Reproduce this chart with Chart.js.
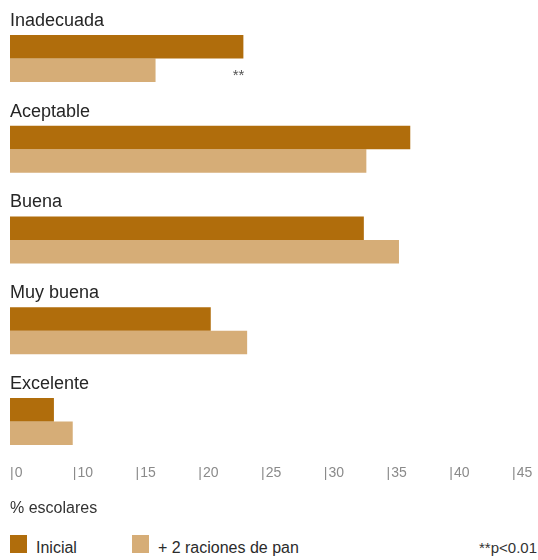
<!DOCTYPE html>
<html lang="es">
<head>
<meta charset="utf-8">
<title>Valoración de escolares</title>
<script src="https://cdn.jsdelivr.net/npm/chart.js@4.4.1/dist/chart.umd.min.js"></script>
<style>
  html, body { margin: 0; padding: 0; background: #fff; }
  body {
    width: 538px;
    font-family: 'Helvetica Neue', 'Liberation Sans', Arial, sans-serif;
    color: #2b2b2b;
  }
  .chart-box { position: relative; width: 538px; height: 528px; }
  .legend {
    display: flex;
    align-items: center;
    height: 32px;
    padding: 0 1px 0 10px;
    box-sizing: border-box;
  }
  .legend .swatch { width: 17px; height: 18px; margin-right: 9px; }
  .legend .txt { font-size: 16px; line-height: 18px; position: relative; top: 4px; }
  .legend .gap { width: 55px; }
  .legend .note { margin-left: auto; font-size: 15px; line-height: 18px; position: relative; top: 4px; color: #333; }
</style>
</head>
<body>
<div class="chart-box"><canvas id="ratingChart"></canvas></div>
<div class="legend" id="legend"></div>

<script>
// datos: % de escolares por categoría
const categories = ['Inadecuada', 'Aceptable', 'Buena', 'Muy buena', 'Excelente'];
const initialValues = [18.6, 31.9, 28.2, 16.0, 3.5];
const breadValues = [11.6, 28.4, 31.0, 18.9, 5.0];
const significance = ['**', '', '', '', ''];

// rótulos del eje x, uno por cada paso de 5
const tickLabels = ['0', '10', '15', '20', '25', '30', '35', '40', '45'];

const seriesNames = ['Inicial', '+ 2 raciones de pan'];
const footnote = '**p<0.01';

const colorInitial = '#b06d0c';
const colorBread = '#d6ad77';
const fontFamily = "'Helvetica Neue', 'Liberation Sans', Arial, sans-serif";

Chart.defaults.font.family = fontFamily;
Chart.defaults.color = '#2b2b2b';

// nombre de la categoría encima de cada par de barras y marca de significación
const groupLabels = {
  id: 'groupLabels',
  afterDatasetsDraw(chart) {
    const ctx = chart.ctx;
    const first = chart.getDatasetMeta(0);
    const second = chart.getDatasetMeta(1);
    ctx.save();
    ctx.textBaseline = 'alphabetic';
    categories.forEach((name, i) => {
      const bar = first.data[i];
      ctx.font = '18px ' + fontFamily;
      ctx.fillStyle = '#262626';
      ctx.textAlign = 'left';
      ctx.fillText(name, chart.chartArea.left, bar.y - bar.height / 2 - 9);

      if (significance[i]) {
        const lower = second.data[i];
        ctx.font = '15px ' + fontFamily;
        ctx.fillStyle = '#555';
        ctx.textAlign = 'right';
        ctx.fillText(significance[i], bar.x + 1, lower.y + lower.height / 2 - 2);
      }
    });
    ctx.restore();
  }
};

const ctxRating = document.getElementById('ratingChart').getContext('2d');

const ratingChart = new Chart(ctxRating, {
  type: 'bar',
  data: {
    labels: categories,
    datasets: [
      {
        label: seriesNames[0],
        data: initialValues,
        backgroundColor: colorInitial,
        borderWidth: 0
      },
      {
        label: seriesNames[1],
        data: breadValues,
        backgroundColor: colorBread,
        borderWidth: 0
      }
    ]
  },
  options: {
    indexAxis: 'y',
    responsive: true,
    maintainAspectRatio: false,
    animation: false,
    datasets: {
      bar: { categoryPercentage: 0.518, barPercentage: 1 }
    },
    layout: {
      padding: { left: 10, right: 1, top: 13, bottom: 0 }
    },
    plugins: {
      legend: { display: false },
      tooltip: { enabled: false }
    },
    scales: {
      y: {
        display: false,
        offset: true
      },
      x: {
        min: 0,
        max: 42,
        grid: { display: false, drawTicks: false },
        border: { display: false },
        ticks: {
          stepSize: 5,
          includeBounds: false,
          align: 'start',
          padding: -2,
          maxRotation: 0,
          autoSkip: false,
          color: '#8a8a8a',
          font: { size: 14 },
          // marca vertical antes de cada número
          callback: (value) => '|\u200A' + tickLabels[Math.round(value / 5)]
        },
        title: {
          display: true,
          text: '% escolares',
          align: 'start',
          color: '#333',
          font: { size: 16 },
          padding: { top: 19, bottom: 10 }
        }
      }
    }
  },
  plugins: [groupLabels]
});

// leyenda en HTML con los mismos colores de las series
const legendEl = document.getElementById('legend');
legendEl.innerHTML =
  '<span class="swatch" style="background:' + colorInitial + '"></span>' +
  '<span class="txt">' + seriesNames[0] + '</span>' +
  '<span class="gap"></span>' +
  '<span class="swatch" style="background:' + colorBread + '"></span>' +
  '<span class="txt">' + seriesNames[1] + '</span>' +
  '<span class="note">' + footnote.replace('<', '&lt;') + '</span>';
</script>
</body>
</html>
